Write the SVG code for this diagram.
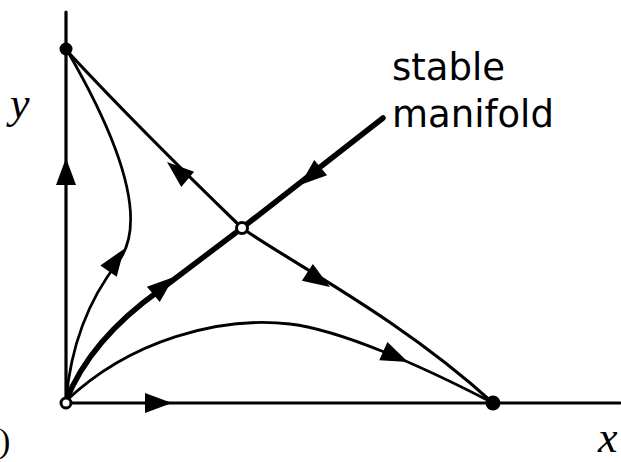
<svg xmlns="http://www.w3.org/2000/svg" width="621" height="462" viewBox="0 0 621 462">
<style>
.ln{fill:none;stroke:#000;stroke-linecap:round}
.ax{stroke-width:3.2}
.sep{stroke-width:3.2}
.thin{stroke-width:2.8}
.thick{stroke-width:5.5}
.ah{fill:#000}
.lbl{font-family:"Liberation Serif",serif;font-style:italic;fill:#000}
.txt{font-family:"DejaVu Sans",sans-serif;fill:#000}
</style>
<defs>
<path id="ah" d="M0,0 L-27,-10 L-27,10 Z"/>
</defs>
<g id="connectors">
<path class="ln ax" d="M66,12 L66,403"/>
<path class="ln ax" d="M66,403 L620,403"/>
<path class="ln sep" d="M68,52 C120,108 180,168 242,228"/>
<path class="ln sep" d="M242,228 C290,262 400,318 493,403"/>
<path class="ln thick" d="M66,401 C82,360 115,322 160,290 L242,228 L383,118"/>
<path class="ln thin" d="M66,401 C72,330 100,285 118,262 C138,236 142,180 68,52"/>
<path class="ln thin" d="M66,401 C130,340 220,316 290,324 C340,330 420,365 493,403"/>
<g class="ah">
<use href="#ah" transform="translate(66,158) rotate(-90)"/>
<use href="#ah" transform="translate(172,403) rotate(0)"/>
<use href="#ah" transform="translate(167,162) rotate(-140)"/>
<use href="#ah" transform="translate(330,287) rotate(33)"/>
<use href="#ah" transform="translate(300,185) rotate(140)"/>
<use href="#ah" transform="translate(174,277) rotate(-40)"/>
<use href="#ah" transform="translate(124,249) rotate(-55)"/>
<use href="#ah" transform="translate(408,362) rotate(24)"/>
</g>
</g>
<g id="node-top"><circle cx="66" cy="49" r="6.5" fill="#000"/></g>
<g id="node-right"><circle cx="493" cy="403" r="7.5" fill="#000"/></g>
<g id="node-origin"><circle cx="66" cy="403" r="5" fill="#fff" stroke="#000" stroke-width="3"/></g>
<g id="node-saddle"><circle cx="242" cy="228" r="5.5" fill="#fff" stroke="#000" stroke-width="3"/></g>
<g id="labels">
<text class="lbl" x="10" y="118" font-size="44">y</text>
<text class="lbl" x="598" y="452" font-size="44">x</text>
<text x="-1" y="452" font-family="Liberation Serif,serif" font-size="34">)</text>
<text class="txt" x="392" y="80" font-size="37">stable</text>
<text class="txt" x="392" y="127" font-size="37">manifold</text>
</g>
</svg>
